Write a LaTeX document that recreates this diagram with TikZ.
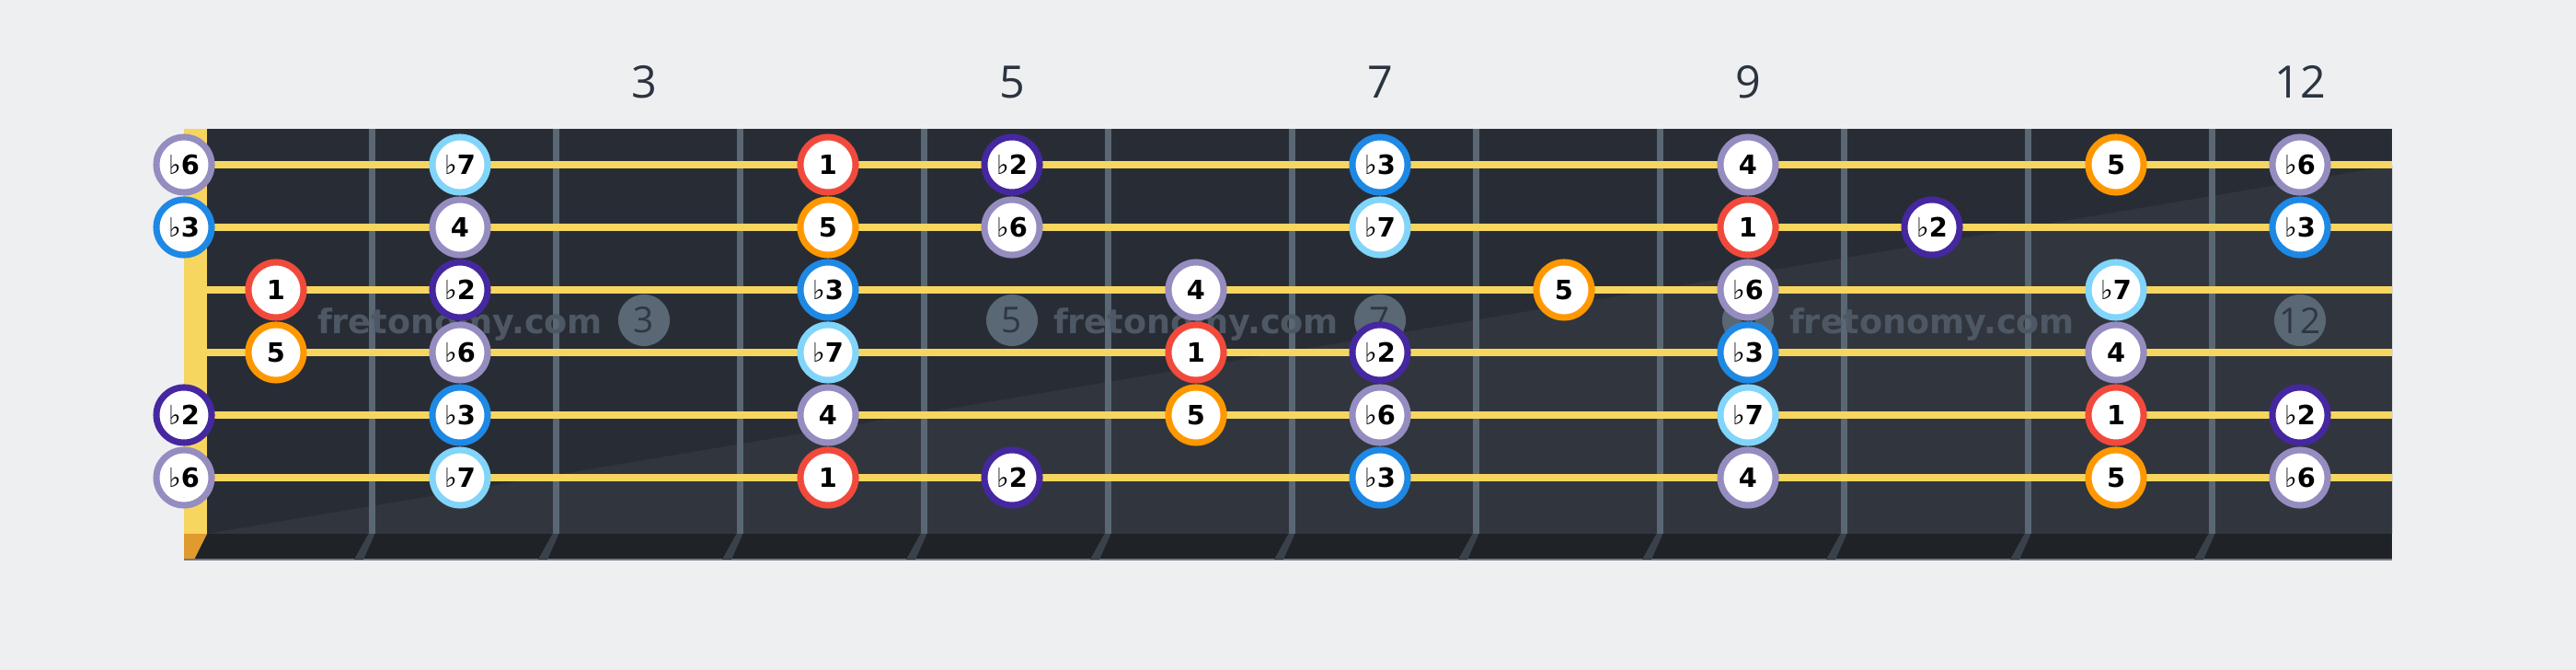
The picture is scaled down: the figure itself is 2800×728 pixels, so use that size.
\documentclass[tikz,border=0pt]{standalone}
\usepackage{fontspec}
\setmainfont{DejaVu Sans}
\newfontfamily\numfont{Open Sans}
\usetikzlibrary{positioning}

\definecolor{cBg}{HTML}{EEEFF1}
\definecolor{cBoard}{HTML}{282D35}
\definecolor{cBoardLight}{HTML}{31363E}
\definecolor{cStrip}{HTML}{1F2226}
\definecolor{cEdge}{HTML}{6F7A86}
\definecolor{cFret}{HTML}{5A6774}
\definecolor{cFretFoot}{HTML}{3A414A}
\definecolor{cString}{HTML}{F7D660}
\definecolor{cNutFoot}{HTML}{E09A2E}
\definecolor{cInlay}{HTML}{5A6774}
\definecolor{cInlayText}{HTML}{2F3842}
\definecolor{cMark}{HTML}{4D5864}
\definecolor{cLabel}{HTML}{2B3440}
\definecolor{cRoot}{HTML}{F14A3C}
\definecolor{cMinTwo}{HTML}{4527A0}
\definecolor{cMinThree}{HTML}{1E88E5}
\definecolor{cFour}{HTML}{958CC0}
\definecolor{cFive}{HTML}{FF9800}
\definecolor{cMinSix}{HTML}{958CC0}
\definecolor{cMinSeven}{HTML}{81D4FA}

% flat sign, thin, before a bold degree
\newcommand\fl[1]{{\mdseries ♭}#1}

\begin{document}
\begin{tikzpicture}[x=0.01cm,y=-0.01cm,
    note/.style={circle,fill=white,line width=2pt,minimum size=0.6cm,inner sep=0pt,
                 font=\fontsize{8.2}{9}\selectfont\bfseries},
    inlay/.style={circle,fill=cInlay,minimum size=0.56cm,inner sep=0pt,
                  text=cInlayText,font=\numfont\fontsize{11}{12}\selectfont},
    fretnum/.style={anchor=base,text=cLabel,font=\numfont\fontsize{13.8}{15}\selectfont},
    watermark/.style={anchor=base,text=cMark,font=\fontsize{10.4}{12}\selectfont\bfseries},
    gstring/.style={draw=cString,line width=2.3pt}]

  % background and board
  \fill[cBg] (0,0) rectangle (2800,728);
  \fill[cBoard] (225,140) rectangle (2600,580);
  \fill[cBoardLight] (225,580) -- (2600,180) -- (2600,580) -- cycle;
  \fill[cStrip] (200,580) rectangle (2600,608);
  \fill[cNutFoot] (200,580) -- (225,580) -- (211,608) -- (200,608) -- cycle;
  \draw[cEdge,line width=0.5pt] (200,608) -- (2600,608);
  \fill[cString] (200,140) rectangle (225,580);

  % frets
  \foreach \i in {0,...,10} {
    \fill[cFret] (400.5+200*\i,140) rectangle (407.5+200*\i,580);
    \fill[cFretFoot] (400.5+200*\i,580) -- (407.5+200*\i,580)
                     -- (395+200*\i,608) -- (385+200*\i,608) -- cycle;
  }

  % fret numbers
  \node[fretnum] (num3)  at (700,107)  {3};
  \node[fretnum] (num5)  at (1100,107) {5};
  \node[fretnum] (num7)  at (1500,107) {7};
  \node[fretnum] (num9)  at (1900,107) {9};
  \node[fretnum] (num12) at (2500,107) {12};

  % inlays and watermark
  \node[inlay] (dot3)  at (700,348)  {3};
  \node[inlay] (dot5)  at (1100,348) {5};
  \node[inlay] (dot7)  at (1500,348) {7};
  \node[inlay] (dot9)  at (1900,348) {9};
  \node[inlay] (dot12) at (2500,348) {12};
  \node[watermark] (mark1) at (500,363)  {fretonomy.com};
  \node[watermark] (mark2) at (1300,363) {fretonomy.com};
  \node[watermark] (mark3) at (2100,363) {fretonomy.com};

  % strings
  \foreach \s in {1,...,6}
    \draw[gstring] (225,111+68*\s) -- (2600,111+68*\s);

  % scale degrees: string/fret/colour/text
  \foreach \s/\f/\c/\t in {
      1/0/cMinSix/\fl6, 1/2/cMinSeven/\fl7, 1/4/cRoot/1, 1/5/cMinTwo/\fl2,
      1/7/cMinThree/\fl3, 1/9/cFour/4, 1/11/cFive/5, 1/12/cMinSix/\fl6,
      2/0/cMinThree/\fl3, 2/2/cFour/4, 2/4/cFive/5, 2/5/cMinSix/\fl6,
      2/7/cMinSeven/\fl7, 2/9/cRoot/1, 2/10/cMinTwo/\fl2, 2/12/cMinThree/\fl3,
      3/1/cRoot/1, 3/2/cMinTwo/\fl2, 3/4/cMinThree/\fl3, 3/6/cFour/4,
      3/8/cFive/5, 3/9/cMinSix/\fl6, 3/11/cMinSeven/\fl7,
      4/1/cFive/5, 4/2/cMinSix/\fl6, 4/4/cMinSeven/\fl7, 4/6/cRoot/1,
      4/7/cMinTwo/\fl2, 4/9/cMinThree/\fl3, 4/11/cFour/4,
      5/0/cMinTwo/\fl2, 5/2/cMinThree/\fl3, 5/4/cFour/4, 5/6/cFive/5,
      5/7/cMinSix/\fl6, 5/9/cMinSeven/\fl7, 5/11/cRoot/1, 5/12/cMinTwo/\fl2,
      6/0/cMinSix/\fl6, 6/2/cMinSeven/\fl7, 6/4/cRoot/1, 6/5/cMinTwo/\fl2,
      6/7/cMinThree/\fl3, 6/9/cFour/4, 6/11/cFive/5, 6/12/cMinSix/\fl6} {
    \pgfmathsetmacro\nx{(\f==0)*200+(\f>0)*(100+200*\f)}
    \node[note,draw=\c] (n\s-\f) at (\nx,111+68*\s) {\t};
  }

\end{tikzpicture}
\end{document}
